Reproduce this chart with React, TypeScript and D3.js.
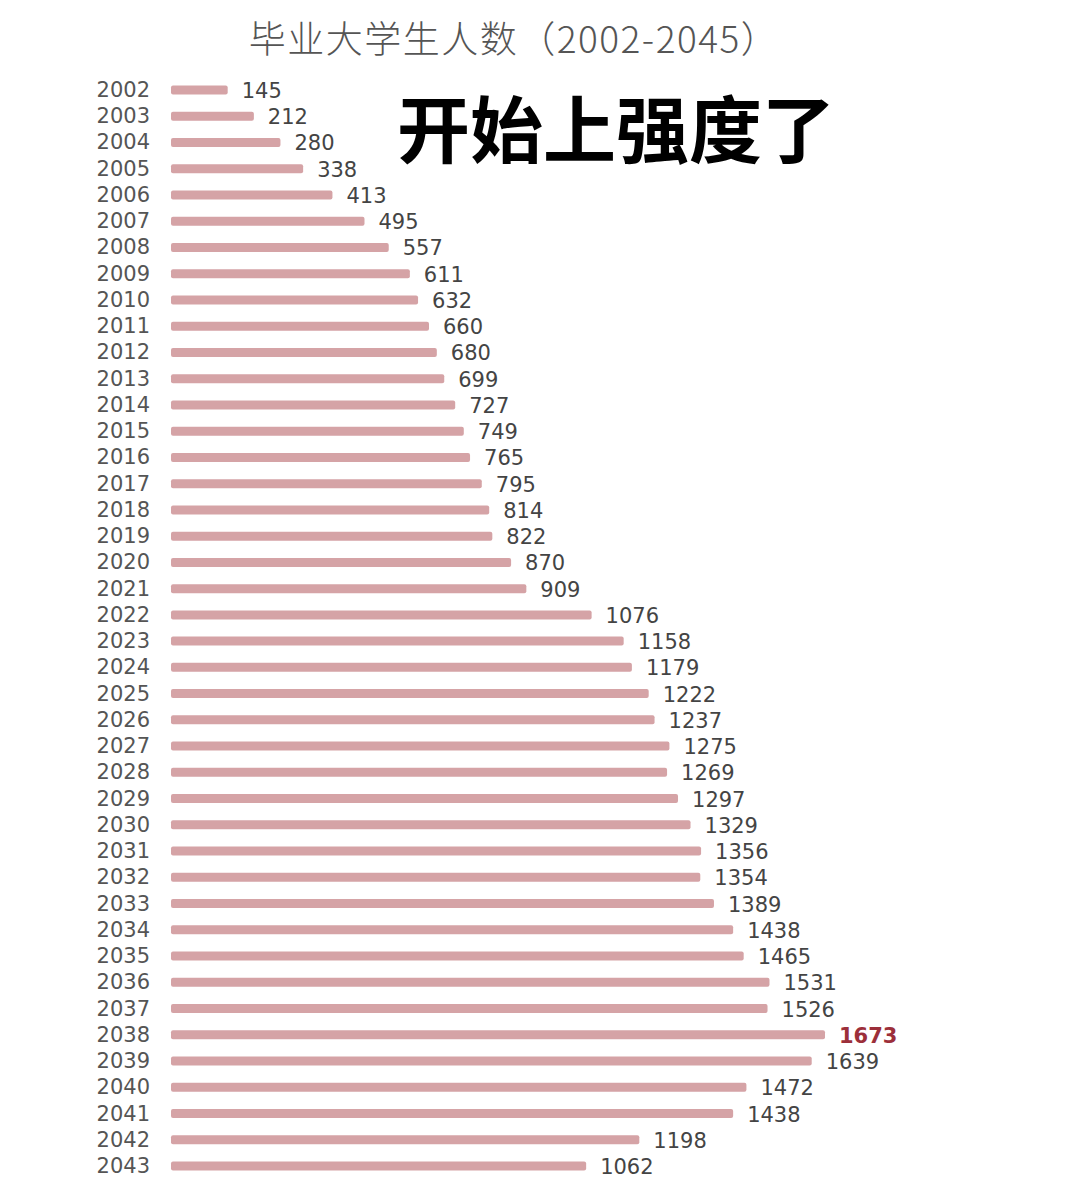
import * as React from 'react';
import * as d3 from 'd3';

// years shown on the left, top to bottom
const YEARS: string[] = [
    '2002', '2003', '2004', '2005', '2006', '2007', '2008', '2009', '2010', '2011',
    '2012', '2013', '2014', '2015', '2016', '2017', '2018', '2019', '2020', '2021',
    '2022', '2023', '2024', '2025', '2026', '2027', '2028', '2029', '2030', '2031',
    '2032', '2033', '2034', '2035', '2036', '2037', '2038', '2039', '2040', '2041',
    '2042', '2043',
];

// graduates (万人)
const GRADUATES: number[] = [
    145, 212, 280, 338, 413, 495, 557, 611, 632, 660,
    680, 699, 727, 749, 765, 795, 814, 822, 870, 909,
    1076, 1158, 1179, 1222, 1237, 1275, 1269, 1297, 1329, 1356,
    1354, 1389, 1438, 1465, 1531, 1526, 1673, 1639, 1472, 1438,
    1198, 1062,
];

const TITLE = '毕业大学生人数（2002-2045）';
const CAPTION = '开始上强度了';

const WIDTH = 1080;
const HEIGHT = 1179;
const BAR_COLOR = '#d5a3a6';
const LABEL_COLOR = '#555';
const PEAK_COLOR = '#9c2f3a';
const NUM_FONT = '"DejaVu Sans", "Noto Sans", sans-serif';
const CJK_FONT = '"Noto Sans CJK SC", "Noto Sans", sans-serif';

export default function App() {
    const ref = React.useRef<SVGSVGElement>(null);

    React.useEffect(() => {
        const svg = d3.select(ref.current);
        svg.selectAll('*').remove();

        const maxVal = d3.max(GRADUATES) as number;

        const xScale = d3.scaleLinear()
            .domain([0, maxVal])
            .range([171, 825]);

        const yScale = d3.scalePoint<string>()
            .domain(YEARS)
            .range([90, 1166]);

        const rows = YEARS.map((year, i) => ({ year, value: GRADUATES[i] }));

        svg.append('rect')
            .attr('width', WIDTH)
            .attr('height', HEIGHT)
            .attr('fill', '#fff');

        // title
        svg.append('text')
            .attr('x', 514)
            .attr('y', 37)
            .attr('text-anchor', 'middle')
            .attr('dominant-baseline', 'central')
            .attr('font-family', CJK_FONT)
            .attr('font-size', 37)
            .attr('font-weight', 300)
            .attr('letter-spacing', 1.5)
            .attr('fill', LABEL_COLOR)
            .text(TITLE);

        // bars
        svg.append('g')
            .selectAll('rect')
            .data(rows)
            .join('rect')
            .attr('x', xScale(0))
            .attr('y', d => (yScale(d.year) as number) - 4.5)
            .attr('width', d => xScale(d.value) - xScale(0))
            .attr('height', 9)
            .attr('rx', 2)
            .attr('fill', BAR_COLOR);

        // year labels
        svg.append('g')
            .selectAll('text')
            .data(rows)
            .join('text')
            .attr('x', 150)
            .attr('y', d => yScale(d.year) as number)
            .attr('text-anchor', 'end')
            .attr('dominant-baseline', 'central')
            .attr('font-family', NUM_FONT)
            .attr('font-size', 21)
            .attr('fill', LABEL_COLOR)
            .text(d => d.year);

        // value labels, the peak in red
        svg.append('g')
            .selectAll('text')
            .data(rows)
            .join('text')
            .attr('x', d => xScale(d.value) + 14)
            .attr('y', d => (yScale(d.year) as number) + 1)
            .attr('dominant-baseline', 'central')
            .attr('font-family', NUM_FONT)
            .attr('font-size', 21)
            .attr('font-weight', d => (d.value === maxVal ? 'bold' : 'normal'))
            .attr('fill', d => (d.value === maxVal ? PEAK_COLOR : '#444'))
            .text(d => d.value);

        // big caption
        svg.append('text')
            .attr('x', 616)
            .attr('y', 125)
            .attr('text-anchor', 'middle')
            .attr('dominant-baseline', 'central')
            .attr('font-family', CJK_FONT)
            .attr('font-size', 73)
            .attr('font-weight', 'bold')
            .attr('fill', '#000')
            .text(CAPTION);
    }, []);

    return (
        <svg
            ref={ref}
            width={WIDTH}
            height={HEIGHT}
            style={{ position: 'absolute', left: 0, top: 0, display: 'block' }}
        />
    );
}
